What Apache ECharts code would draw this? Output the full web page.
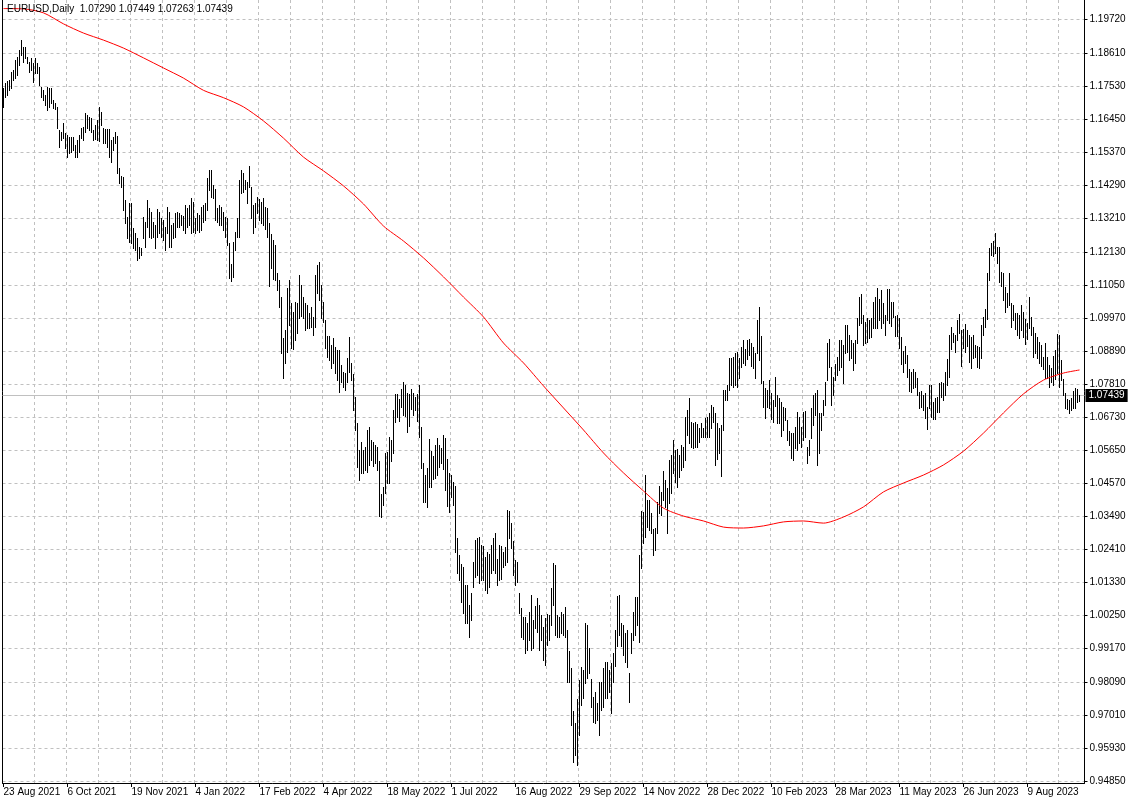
<!DOCTYPE html>
<html>
<head>
<meta charset="utf-8">
<script src="https://cdn.jsdelivr.net/npm/echarts@6/dist/echarts.min.js"></script>
<style>
html,body{margin:0;padding:0;background:#fff;}
#chart{width:1130px;height:804px;}
</style>
</head>
<body>
<div id="chart"></div>
<script>
// ---- data (EURUSD daily) ----
const symbolTitle = 'EURUSD,Daily';
const startDate = '2021-08-23';      // first bar
const barCount = 539;                // daily bars (weekdays)
const emptyRightBars = 2;            // chart shift space

const lastBarOHLC = [1.07290, 1.07449, 1.07263, 1.07439];

const highs = [
1.1748,1.1764,1.1771,1.1774,1.1799,1.1806,1.1839,1.1849,1.1872,1.1904,
1.1881,1.1881,1.1849,1.1832,1.1846,1.1829,1.1846,1.1829,1.1816,1.1751,
1.1741,1.1725,1.1751,1.1748,1.1748,1.1709,1.1699,1.1686,1.1611,1.1604,
1.1633,1.1601,1.1594,1.1588,1.1588,1.1588,1.1562,1.1578,1.1594,1.1617,
1.1620,1.1666,1.1660,1.1653,1.1650,1.1611,1.1627,1.1643,1.1686,1.1669,
1.1617,1.1614,1.1614,1.1614,1.1578,1.1588,1.1604,1.1591,1.1486,1.1460,
1.1457,1.1382,1.1326,1.1372,1.1372,1.1291,1.1274,1.1258,1.1228,1.1225,
1.1326,1.1310,1.1382,1.1356,1.1343,1.1310,1.1300,1.1353,1.1343,1.1323,
1.1317,1.1294,1.1359,1.1343,1.1300,1.1307,1.1340,1.1343,1.1340,1.1333,
1.1330,1.1366,1.1356,1.1366,1.1389,1.1376,1.1323,1.1340,1.1333,1.1359,
1.1366,1.1372,1.1454,1.1480,1.1480,1.1431,1.1418,1.1356,1.1366,1.1359,
1.1343,1.1326,1.1323,1.1241,1.1173,1.1245,1.1278,1.1323,1.1447,1.1480,
1.1470,1.1447,1.1441,1.1493,1.1424,1.1366,1.1372,1.1392,1.1385,1.1376,
1.1389,1.1359,1.1356,1.1307,1.1271,1.1251,1.1235,1.1144,1.1121,1.1065,
1.0931,1.0958,1.1095,1.1121,1.1046,1.1016,1.1049,1.1046,1.1137,1.1104,
1.1065,1.1046,1.1039,1.1013,1.1033,1.1000,1.1137,1.1170,1.1180,1.1104,
1.1049,1.0990,1.0938,1.0938,1.0909,1.0931,1.0902,1.0892,1.0892,1.0843,
1.0820,1.0817,1.0866,1.0935,1.0850,1.0814,1.0739,1.0654,1.0566,1.0592,
1.0566,1.0576,1.0631,1.0641,1.0598,1.0592,1.0582,1.0576,1.0530,1.0422,
1.0445,1.0556,1.0559,1.0608,1.0598,1.0696,1.0749,1.0749,1.0732,1.0765,
1.0788,1.0778,1.0752,1.0749,1.0765,1.0752,1.0739,1.0749,1.0778,1.0641,
1.0523,1.0484,1.0507,1.0602,1.0562,1.0546,1.0582,1.0605,1.0582,1.0572,
1.0615,1.0605,1.0536,1.0491,1.0484,1.0461,1.0448,1.0278,1.0223,1.0194,
1.0184,1.0125,1.0125,1.0060,1.0099,1.0200,1.0272,1.0278,1.0282,1.0256,
1.0252,1.0216,1.0233,1.0226,1.0256,1.0278,1.0295,1.0210,1.0256,1.0252,
1.0233,1.0249,1.0370,1.0367,1.0327,1.0269,1.0207,1.0200,1.0099,1.0050,
1.0020,1.0020,1.0001,1.0037,1.0092,1.0011,1.0056,1.0083,1.0060,1.0027,
0.9988,1.0017,1.0030,1.0027,1.0115,1.0197,1.0190,1.0027,1.0020,1.0037,
1.0030,1.0053,0.9978,0.9910,0.9854,0.9714,0.9674,0.9753,0.9815,0.9857,
0.9847,1.0001,0.9994,0.9919,0.9818,0.9759,0.9776,0.9740,0.9808,0.9808,
0.9854,0.9874,0.9874,0.9847,0.9870,0.9903,0.9978,1.0089,1.0092,1.0001,
0.9994,0.9968,0.9978,0.9838,0.9968,1.0037,1.0086,1.0086,1.0223,1.0367,
1.0363,1.0484,1.0403,1.0403,1.0360,1.0308,1.0311,1.0396,1.0448,1.0429,
1.0497,1.0468,1.0442,1.0533,1.0549,1.0598,1.0566,1.0569,1.0549,1.0582,
1.0576,1.0674,1.0696,1.0735,1.0657,1.0654,1.0657,1.0651,1.0638,1.0654,
1.0638,1.0670,1.0674,1.0687,1.0713,1.0706,1.0687,1.0654,1.0638,1.0647,
1.0762,1.0762,1.0778,1.0866,1.0866,1.0869,1.0882,1.0886,1.0866,1.0902,
1.0925,1.0896,1.0925,1.0928,1.0915,1.0902,1.0882,1.0990,1.1033,1.0938,
1.0791,1.0768,1.0762,1.0794,1.0752,1.0729,1.0804,1.0745,1.0735,1.0722,
1.0706,1.0703,1.0664,1.0628,1.0621,1.0621,1.0641,1.0690,1.0674,1.0641,
1.0690,1.0693,1.0576,1.0598,1.0703,1.0745,1.0752,1.0762,1.0687,1.0687,
1.0729,1.0788,1.0915,1.0928,1.0837,1.0804,1.0846,1.0869,1.0925,1.0925,
1.0909,1.0974,1.0974,1.0941,1.0925,1.0915,1.0925,1.0997,1.1065,1.1075,
1.1007,1.0984,1.0997,1.0990,1.0997,1.1049,1.1065,1.1095,1.1059,1.1088,
1.1046,1.1007,1.1091,1.1091,1.1049,1.1049,1.1003,1.1007,1.0997,1.0935,
1.0889,1.0905,1.0876,1.0830,1.0820,1.0830,1.0820,1.0801,1.0755,1.0758,
1.0745,1.0752,1.0706,1.0778,1.0778,1.0722,1.0735,1.0739,1.0785,1.0788,
1.0785,1.0820,1.0863,1.0941,1.0967,1.0948,1.0941,1.0990,1.1010,1.0958,
1.0961,1.0977,1.0958,1.0941,1.0935,1.0941,1.0909,1.0905,1.0902,1.0974,
1.1000,1.1026,1.1144,1.1225,1.1242,1.1248,1.1274,1.1229,1.1229,1.1147,
1.1144,1.1098,1.1078,1.1144,1.1046,1.1039,1.1013,1.1013,1.1007,1.1039,
1.1016,1.0993,1.0980,1.1065,1.1000,1.0967,1.0948,1.0935,1.0918,1.0909,
1.0869,1.0915,1.0869,1.0843,1.0833,1.0873,1.0892,1.0944,1.0941,1.0860,
1.0798,1.0752,1.0732,1.0729,1.0735,1.0758,1.0768,1.0765,1.0745
];

const lows = [
1.1686,1.1718,1.1725,1.1741,1.1748,1.1774,1.1780,1.1790,1.1823,1.1856,
1.1832,1.1846,1.1829,1.1799,1.1806,1.1767,1.1796,1.1796,1.1758,1.1718,
1.1709,1.1692,1.1676,1.1686,1.1699,1.1682,1.1679,1.1617,1.1555,1.1578,
1.1584,1.1552,1.1522,1.1535,1.1538,1.1545,1.1522,1.1522,1.1538,1.1584,
1.1578,1.1604,1.1617,1.1611,1.1604,1.1578,1.1581,1.1578,1.1575,1.1627,
1.1568,1.1568,1.1555,1.1522,1.1506,1.1545,1.1568,1.1470,1.1437,1.1424,
1.1349,1.1307,1.1258,1.1245,1.1242,1.1225,1.1219,1.1186,1.1193,1.1202,
1.1258,1.1228,1.1294,1.1261,1.1258,1.1261,1.1225,1.1261,1.1274,1.1261,
1.1251,1.1219,1.1274,1.1228,1.1228,1.1258,1.1261,1.1294,1.1294,1.1300,
1.1284,1.1274,1.1294,1.1300,1.1274,1.1278,1.1274,1.1284,1.1278,1.1284,
1.1310,1.1317,1.1349,1.1415,1.1392,1.1389,1.1317,1.1310,1.1300,1.1300,
1.1284,1.1261,1.1235,1.1127,1.1117,1.1131,1.1219,1.1261,1.1261,1.1405,
1.1408,1.1418,1.1372,1.1424,1.1323,1.1274,1.1294,1.1340,1.1317,1.1307,
1.1300,1.1287,1.1261,1.1101,1.1160,1.1124,1.1121,1.1088,1.1033,1.0882,
1.0801,1.0850,1.0886,1.0974,1.0899,1.0896,1.0925,1.0948,1.0997,1.1003,
1.0997,1.0958,1.0964,1.0964,1.0967,1.0941,1.0967,1.1078,1.1056,1.0997,
1.0984,1.0899,1.0869,1.0860,1.0833,1.0850,1.0817,1.0794,1.0755,1.0788,
1.0771,1.0762,1.0788,1.0820,1.0794,1.0696,1.0631,1.0510,1.0468,1.0491,
1.0491,1.0500,1.0494,1.0517,1.0533,1.0514,1.0523,1.0500,1.0350,1.0347,
1.0386,1.0425,1.0458,1.0458,1.0530,1.0556,1.0657,1.0674,1.0660,1.0706,
1.0680,1.0677,1.0624,1.0644,1.0700,1.0680,1.0696,1.0660,1.0608,1.0507,
1.0396,1.0396,1.0380,1.0445,1.0445,1.0471,1.0474,1.0484,1.0510,1.0523,
1.0504,1.0435,1.0383,1.0363,1.0412,1.0386,1.0233,1.0164,1.0141,1.0069,
1.0034,1.0001,1.0001,0.9955,1.0011,1.0118,1.0151,1.0158,1.0131,1.0141,
1.0141,1.0109,1.0099,1.0118,1.0164,1.0174,1.0164,1.0125,1.0141,1.0145,
1.0184,1.0190,1.0200,1.0278,1.0246,1.0158,1.0125,1.0135,1.0034,0.9955,
0.9949,0.9903,0.9913,0.9945,0.9913,0.9919,0.9985,0.9972,0.9913,0.9945,
0.9880,0.9864,0.9929,0.9945,0.9994,1.0060,0.9962,0.9955,0.9955,0.9968,
0.9962,0.9955,0.9808,0.9808,0.9668,0.9547,0.9570,0.9537,0.9635,0.9733,
0.9756,0.9805,0.9821,0.9838,0.9727,0.9678,0.9674,0.9684,0.9635,0.9717,
0.9727,0.9756,0.9756,0.9776,0.9707,0.9808,0.9861,0.9926,0.9962,0.9926,
0.9896,0.9874,0.9857,0.9743,0.9903,0.9945,0.9962,0.9994,0.9939,1.0180,
1.0262,1.0282,1.0314,1.0305,1.0295,1.0223,1.0239,1.0295,1.0360,1.0354,
1.0403,1.0380,1.0295,1.0393,1.0425,1.0491,1.0461,1.0445,1.0478,1.0500,
1.0510,1.0533,1.0615,1.0589,1.0576,1.0572,1.0576,1.0576,1.0592,1.0608,
1.0608,1.0608,1.0608,1.0608,1.0638,1.0657,1.0517,1.0536,1.0556,1.0481,
1.0631,1.0729,1.0729,1.0762,1.0778,1.0771,1.0778,1.0771,1.0801,1.0837,
1.0850,1.0843,1.0863,1.0876,1.0840,1.0833,1.0801,1.0882,1.0860,1.0785,
1.0706,1.0670,1.0706,1.0703,1.0667,1.0657,1.0709,1.0654,1.0654,1.0611,
1.0631,1.0664,1.0598,1.0582,1.0540,1.0533,1.0572,1.0566,1.0589,1.0576,
1.0598,1.0608,1.0523,1.0549,1.0605,1.0647,1.0680,1.0517,1.0556,1.0631,
1.0680,1.0713,1.0794,1.0837,1.0713,1.0745,1.0794,1.0811,1.0827,1.0837,
1.0785,1.0882,1.0886,1.0860,1.0866,1.0827,1.0850,1.0915,1.0974,1.0980,
1.0909,1.0915,1.0918,1.0931,1.0935,1.0964,1.0964,1.0964,1.0990,1.0964,
1.0980,1.0941,1.0990,1.0980,1.0971,1.1000,1.0938,1.0938,1.0899,1.0847,
1.0820,1.0850,1.0804,1.0758,1.0755,1.0768,1.0771,1.0745,1.0703,1.0706,
1.0696,1.0670,1.0634,1.0703,1.0674,1.0667,1.0667,1.0690,1.0690,1.0739,
1.0729,1.0745,1.0778,1.0804,1.0896,1.0918,1.0886,1.0925,1.0948,1.0840,
1.0899,1.0886,1.0905,1.0853,1.0833,1.0866,1.0869,1.0837,1.0833,1.0866,
1.0941,1.0967,1.0993,1.1121,1.1202,1.1199,1.1209,1.1176,1.1114,1.1101,
1.1056,1.1016,1.1033,1.1039,1.0967,1.0990,1.0961,1.0941,1.0931,1.0958,
1.0935,1.0912,1.0928,1.0964,1.0941,1.0869,1.0882,1.0866,1.0850,1.0840,
1.0830,1.0801,1.0801,1.0771,1.0788,1.0778,1.0798,1.0817,1.0771,1.0794,
1.0745,1.0703,1.0700,1.0687,1.0696,1.0703,1.0703,1.0722,1.0726
];

// 200-day moving average, read every 10 bars (bar 0,10,...,530) plus the last bar
const maStep = 10;
const ma200 = [
1.2007,1.2006,1.1993,1.1957,1.1927,1.1904,1.1878,1.1846,1.1813,1.1780,
1.1740,1.1716,1.1686,1.1640,1.1584,1.1522,1.1477,1.1428,1.1369,1.1297,
1.1248,1.1193,1.1131,1.1065,1.1000,1.0915,1.0850,1.0775,1.0703,1.0631,
1.0556,1.0491,1.0432,1.0376,1.0350,1.0334,1.0314,1.0311,1.0318,1.0331,
1.0334,1.0327,1.0347,1.0380,1.0429,1.0458,1.0484,1.0517,1.0562,1.0621,
1.0687,1.0749,1.0794,1.0817
];
const ma200Last = 1.0827;

// price scale labels (right axis)
const yTicks = [1.1972,1.1861,1.1753,1.1645,1.1537,1.1429,1.1321,1.1213,1.1105,1.0997,
  1.0889,1.0781,1.0673,1.0565,1.0457,1.0349,1.0241,1.0133,1.0025,0.9917,0.9809,0.9701,0.9593,0.9485];
const yMin = 0.94785, yMax = 1.2035;

// ---- build ----
const MONTHS = ['Jan','Feb','Mar','Apr','May','Jun','Jul','Aug','Sep','Oct','Nov','Dec'];
const categories = [];
{
  const d = new Date(startDate + 'T00:00:00Z');
  while (categories.length < barCount) {
    const wd = d.getUTCDay();
    if (wd !== 0 && wd !== 6) categories.push(d.getUTCDate() + ' ' + MONTHS[d.getUTCMonth()] + ' ' + d.getUTCFullYear());
    d.setUTCDate(d.getUTCDate() + 1);
  }
  for (let k = 0; k < emptyRightBars; k++) categories.push('');
}

const barData = highs.map((h, i) => [i, h, lows[i]]);
const maData = new Array(categories.length).fill(null);
ma200.forEach((v, k) => { maData[k * maStep] = v; });
maData[barCount - 1] = ma200Last;

const FONT = 'Liberation Sans, Arial, sans-serif';
const titleText = symbolTitle + '  ' + lastBarOHLC.map(v => v.toFixed(5)).join(' ');
const lastClose = lastBarOHLC[3];

const chart = echarts.init(document.getElementById('chart'), null, {renderer: 'canvas'});
chart.setOption({
  animation: false,
  backgroundColor: '#ffffff',
  title: {
    text: titleText, left: 7, top: 4, padding: 0,
    textStyle: {fontSize: 10, fontWeight: 'normal', color: '#000', fontFamily: FONT}
  },
  grid: {left: 2.5, right: 45.5, top: 0, bottom: 21, containLabel: false},
  xAxis: {
    type: 'category', data: categories, boundaryGap: true,
    axisLine: {show: true, lineStyle: {color: '#000', width: 1}},
    axisTick: {show: true, interval: 31, alignWithLabel: true, length: 4, lineStyle: {color: '#000'}},
    axisLabel: {interval: 31, align: 'left', margin: 4, color: '#000', fontSize: 10, fontFamily: FONT},
    splitLine: {show: true, interval: 15, lineStyle: {color: '#c0c0c0', type: [3, 3], width: 1}}
  },
  yAxis: [{
    type: 'value', position: 'right', min: yMin, max: yMax, scale: true,
    axisLine: {show: true, lineStyle: {color: '#000'}},
    axisTick: {show: true, length: 3, customValues: yTicks, lineStyle: {color: '#000'}},
    axisLabel: {customValues: yTicks, formatter: v => v.toFixed(5), margin: 5, color: '#000', fontSize: 10, fontFamily: FONT},
    splitLine: {show: true, lineStyle: {color: '#c0c0c0', type: [3, 3], width: 1}}
  }, {
    type: 'value', position: 'left', min: yMin, max: yMax, scale: true,
    axisLine: {show: true, onZero: false, lineStyle: {color: '#000'}},
    axisTick: {show: false}, axisLabel: {show: false}, splitLine: {show: false}
  }],
  series: [{
    name: 'EURUSD', type: 'custom', z: 2,
    data: barData,
    encode: {x: 0, y: [1, 2]},
    renderItem: function (params, api) {
      const i = api.value(0);
      const top = api.coord([i, api.value(1)]);
      const bot = api.coord([i, api.value(2)]);
      const x = Math.floor(top[0]) + 0.5;
      return {
        type: 'line',
        shape: {x1: x, y1: Math.round(top[1]), x2: x, y2: Math.round(bot[1]) + 1},
        style: {stroke: '#000', lineWidth: 1}
      };
    }
  }, {
    name: 'MA200', type: 'line', z: 3,
    data: maData, connectNulls: true, showSymbol: false, smooth: 0.25,
    lineStyle: {color: '#ff0000', width: 1},
    itemStyle: {color: '#ff0000'},
    markLine: {
      silent: true, symbol: 'none', animation: false, z: 1, precision: 5,
      lineStyle: {color: '#c0c0c0', type: 'solid', width: 1},
      label: {
        show: true, position: 'end', distance: 1,
        formatter: lastClose.toFixed(5),
        backgroundColor: '#000', color: '#fff', padding: [2, 3, 1, 3],
        fontSize: 10, fontFamily: FONT
      },
      data: [{yAxis: lastClose}]
    }
  }]
});
</script>
</body>
</html>
